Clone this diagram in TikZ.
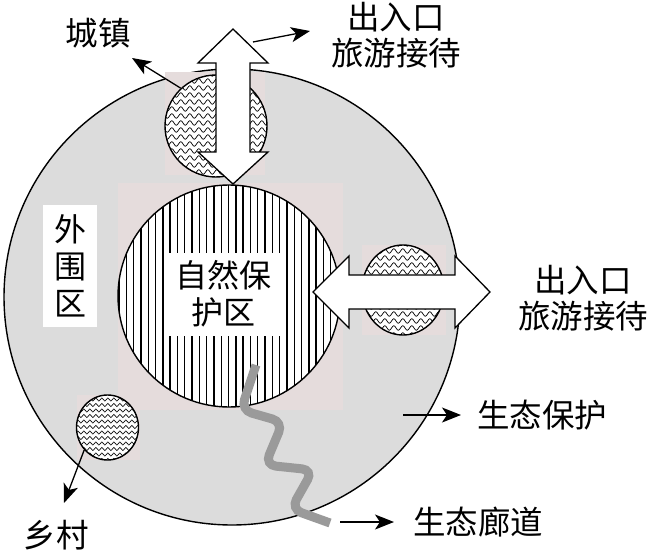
\documentclass[tikz,border=0pt]{standalone}
\usepackage{fontspec}
\newfontfamily\cjk{Noto Sans CJK SC}
\usetikzlibrary{arrows.meta,shapes.geometric,decorations.pathmorphing}
\definecolor{ringgray}{RGB}{220,220,220}
\definecolor{pinkish}{RGB}{229,220,220}
\definecolor{corridor}{RGB}{154,154,154}
\tikzset{
  lbl/.style={font=\cjk\fontsize{32.5}{36}\selectfont, inner sep=0pt, align=center},
  whitebox/.style={fill=white, inner sep=0pt, align=center, font=\cjk\fontsize{32}{37}\selectfont},
  blockarrow/.style={draw=black, fill=white, line width=1.3pt, line join=miter},
  ptr/.style={line width=1.3pt, -{Stealth[length=19pt,width=15pt,inset=5pt]}},
  wave/.style={line width=0.7pt, decorate, decoration={snake, segment length=9pt, amplitude=2.3pt}},
  finewave/.style={line width=0.6pt, decorate, decoration={snake, segment length=6pt, amplitude=1.6pt}},
  ring/.style={draw=black, line width=1.4pt, inner sep=0pt},
}
\begin{document}
\begin{tikzpicture}[x=1pt,y=-1pt]
\useasboundingbox (0,0) rectangle (650,551);
% outer ring
\node[circle, ring, fill=ringgray, minimum size=456pt] (outer) at (232,297) {};
% faint rectangles
\fill[pinkish] (118,183) rectangle (343,410);
\fill[pinkish] (165,72) rectangle (265,175);
\fill[pinkish] (362,245) rectangle (446,335);
\fill[pinkish] (77,395) rectangle (140,460);
% top small circle (town)
\begin{scope}
  \clip (216,126) circle[radius=51];
  \fill[white] (160,70) rectangle (270,180);
  \foreach \y in {74,81,...,180} \draw[wave] (160,\y) -- (275,\y);
\end{scope}
\node[circle, ring, minimum size=102pt] (town) at (216,126) {};
% right small circle
\begin{scope}
  \clip (403,290) ellipse[x radius=41, y radius=45];
  \fill[white] (360,240) rectangle (450,340);
  \foreach \y in {244,251,...,340} \draw[wave] (355,\y) -- (455,\y);
\end{scope}
\node[ellipse, ring, minimum width=82pt, minimum height=90pt] (gate) at (403,290) {};
% village circle
\begin{scope}
  \clip (107.5,427.5) ellipse[x radius=31, y radius=32.5];
  \fill[white] (70,390) rectangle (145,465);
  \foreach \y in {394,399.5,...,465} \draw[finewave] (70,\y) -- (150,\y);
\end{scope}
\node[ellipse, ring, minimum width=62pt, minimum height=65pt] (vill) at (107.5,427.5) {};
% inner nature reserve
\begin{scope}
  \clip (229,296) circle[radius=111];
  \fill[white] (110,180) rectangle (345,412);
  \foreach \x in {119,126.3,...,342} \draw[line width=1.4pt] (\x,180) -- (\x,412);
\end{scope}
\node[circle, ring, minimum size=222pt] (core) at (229,296) {};
% white label boxes
\node[whitebox, minimum width=117pt, minimum height=83pt] (corelbl) at (223.5,294) {自然保\\护区};
\node[whitebox, minimum width=54pt, minimum height=122pt] (outlbl) at (70,266) {外\\围\\区};
% ecological corridor
\draw[corridor, line width=9pt, rounded corners=11pt]
  (256,365) -- (241,410) -- (283,422) -- (265,465) -- (313,470) -- (291,509) -- (330,523);
% block arrows
\draw[blockarrow] (233,29) -- (268,63) -- (250,63) -- (250,152) -- (268,152) -- (233,184)
  -- (198,152) -- (216,152) -- (216,63) -- (198,63) -- cycle;
\draw[blockarrow] (313,292) -- (349,256) -- (349,275) -- (455,275) -- (455,256) -- (490,292)
  -- (455,328) -- (455,309) -- (349,309) -- (349,328) -- cycle;
% text labels
\node[lbl] (townlbl) at (98,33) {城镇};
\node[lbl] (gatetop) at (396,35) {出入口\\旅游接待};
\node[lbl] (gateright) at (583,298) {出入口\\旅游接待};
\node[lbl, anchor=west] (eco) at (477,415) {生态保护};
\node[lbl, anchor=west] (corr) at (413,522) {生态廊道};
\node[lbl] (villlbl) at (56,535) {乡村};
% pointer arrows
\coordinate (gstart) at (253,42);
\coordinate (gend) at (310,31);
\coordinate (tend) at (132,58);
\coordinate (vend) at (64,503);
\coordinate (es) at (403,415);
\coordinate (ee) at (461,415);
\coordinate (cs) at (340,522);
\coordinate (ce) at (394,522);
\draw[ptr] (town.133) -- (tend);
\draw[ptr] (gstart) -- (gend);
\draw[ptr] (vill.224) -- (vend);
\draw[ptr] (es) -- (ee);
\draw[ptr] (cs) -- (ce);
\end{tikzpicture}
\end{document}
